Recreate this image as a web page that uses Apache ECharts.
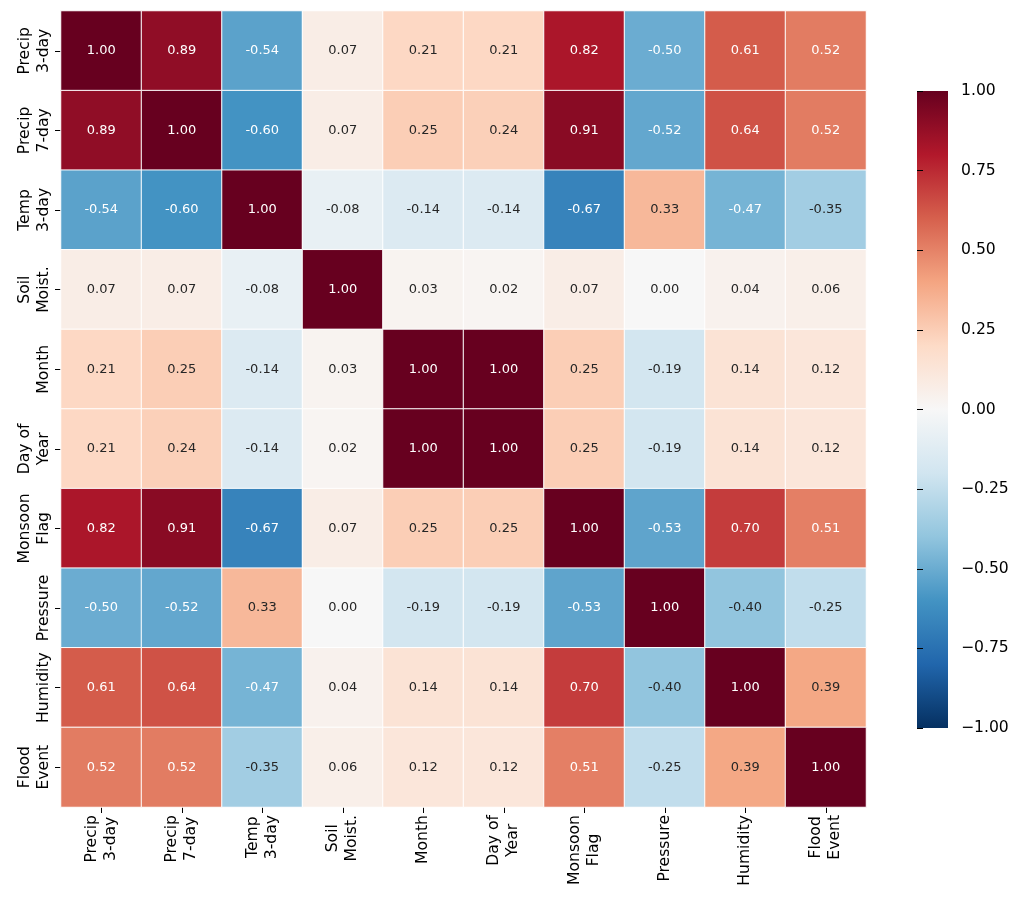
<!DOCTYPE html>
<html><head><meta charset="utf-8">
<script src="https://cdn.jsdelivr.net/npm/echarts@6/dist/echarts.min.js"></script>
<style>html,body{margin:0;padding:0;background:#fff}#c{width:1024px;height:908px}</style>
</head><body><div id="c"></div>
<script>
const featureLabels = ['Precip\n3-day','Precip\n7-day','Temp\n3-day','Soil\nMoist.','Month','Day of\nYear','Monsoon\nFlag','Pressure','Humidity','Flood\nEvent'];
const rowPrecip3  = [ 1.00, 0.89,-0.54, 0.07, 0.21, 0.21, 0.82,-0.50, 0.61, 0.52];
const rowPrecip7  = [ 0.89, 1.00,-0.60, 0.07, 0.25, 0.24, 0.91,-0.52, 0.64, 0.52];
const rowTemp3    = [-0.54,-0.60, 1.00,-0.08,-0.14,-0.14,-0.67, 0.33,-0.47,-0.35];
const rowSoil     = [ 0.07, 0.07,-0.08, 1.00, 0.03, 0.02, 0.07, 0.00, 0.04, 0.06];
const rowMonth    = [ 0.21, 0.25,-0.14, 0.03, 1.00, 1.00, 0.25,-0.19, 0.14, 0.12];
const rowDoy      = [ 0.21, 0.24,-0.14, 0.02, 1.00, 1.00, 0.25,-0.19, 0.14, 0.12];
const rowMonsoon  = [ 0.82, 0.91,-0.67, 0.07, 0.25, 0.25, 1.00,-0.53, 0.70, 0.51];
const rowPressure = [-0.50,-0.52, 0.33, 0.00,-0.19,-0.19,-0.53, 1.00,-0.40,-0.25];
const rowHumidity = [ 0.61, 0.64,-0.47, 0.04, 0.14, 0.14, 0.70,-0.40, 1.00, 0.39];
const rowFlood    = [ 0.52, 0.52,-0.35, 0.06, 0.12, 0.12, 0.51,-0.25, 0.39, 1.00];
const colorbarTicks = [-1.00,-0.75,-0.50,-0.25,0.00,0.25,0.50,0.75,1.00];

const rows = [rowPrecip3,rowPrecip7,rowTemp3,rowSoil,rowMonth,rowDoy,rowMonsoon,rowPressure,rowHumidity,rowFlood];
const cmap = ['#053061','#2166ac','#4393c3','#92c5de','#d1e5f0','#f7f7f7','#fddbc7','#f4a582','#d6604d','#b2182b','#67001f'];
const FONT = 'DejaVu Sans';

const data = [];
rows.forEach((r, yi) => r.forEach((v, xi) => {
  data.push({value: [xi, yi, v], label: {color: Math.abs(v) >= 0.45 ? '#ffffff' : '#262626'}});
}));

const richLabel = s => s.split('\n').map(t => '{a|' + t + '}').join('\n');
const rich = {a: {align: 'center', fontSize: 15.6, lineHeight: 19, fontFamily: FONT, color: '#000'}};

const chart = echarts.init(document.getElementById('c'), null, {renderer: 'canvas'});
chart.setOption({
  backgroundColor: '#fff',
  animation: false,
  grid: [
    {left: 61, top: 11, width: 805, height: 796, containLabel: false},
    {left: 917, top: 91, width: 31, height: 637, show: true, borderWidth: 0,
     backgroundColor: {type: 'linear', x: 0, y: 1, x2: 0, y2: 0,
       colorStops: cmap.map((c, i) => ({offset: i / (cmap.length - 1), color: c}))}}
  ],
  xAxis: [
    {type: 'category', gridIndex: 0, data: featureLabels, position: 'bottom',
     axisLine: {show: false}, splitLine: {show: false},
     axisTick: {show: true, alignWithLabel: true, length: 6, lineStyle: {color: '#000', width: 1}},
     axisLabel: {rotate: 90, margin: 8, interval: 0, formatter: richLabel, rich: rich}},
    {type: 'value', gridIndex: 1, show: false, min: 0, max: 1}
  ],
  yAxis: [
    {type: 'category', gridIndex: 0, data: featureLabels, inverse: true,
     axisLine: {show: false}, splitLine: {show: false},
     axisTick: {show: true, alignWithLabel: true, length: 6, lineStyle: {color: '#000', width: 1}},
     axisLabel: {rotate: 90, margin: 8, interval: 0, formatter: richLabel, rich: rich}},
    {type: 'value', gridIndex: 1, position: 'right', min: -1, max: 1, interval: 0.25,
     axisLine: {show: false}, splitLine: {show: false},
     axisTick: {show: true, inside: false, length: 6, lineStyle: {color: '#000', width: 1}},
     axisLabel: {margin: 13, fontSize: 15.6, fontFamily: FONT, color: '#000',
       formatter: v => (v < 0 ? '\u2212' : '') + Math.abs(v).toFixed(2)}}
  ],
  visualMap: {type: 'continuous', min: -1, max: 1, show: false, seriesIndex: 0, dimension: 2,
    inRange: {color: cmap}},
  series: [{
    type: 'heatmap', xAxisIndex: 0, yAxisIndex: 0, data: data,
    itemStyle: {borderColor: '#ffffff', borderWidth: 1},
    label: {show: true, fontSize: 13, fontFamily: FONT,
      formatter: p => p.value[2].toFixed(2)},
    emphasis: {disabled: true}
  }]
});
</script></body></html>
